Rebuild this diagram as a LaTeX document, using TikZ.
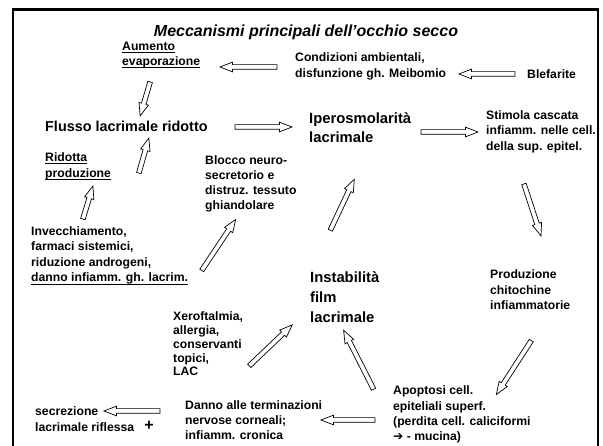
\documentclass[tikz,border=0pt]{standalone}
\usepackage{fontspec}
\setmainfont{Liberation Sans}
\newfontfamily\djv{DejaVu Sans}
\usetikzlibrary{shapes.arrows,calc}
\newcommand{\ul}[1]{\setbox0\hbox{#1}\rlap{\rule[-2.4pt]{\wd0}{0.8pt}}\box0}
% multi-line nodes: anchor "base west" is the baseline of the LAST line
\tikzset{
  sm/.style={anchor=base west, inner sep=0pt, align=left, font=\bfseries\fontsize{12.2}{15.3}\selectfont},
  lg/.style={anchor=base west, inner sep=0pt, align=left, font=\bfseries\fontsize{14.8}{19}\selectfont},
  barrowshape/.style={single arrow, draw=black, fill=white, line width=0.7pt,
    inner xsep=0pt, inner ysep=2pt, minimum width=0pt,
    single arrow head extend=2.5pt, single arrow tip angle=42, anchor=center},
}
\newcommand{\barrow}[2]{%
  \path let \p1=(#1), \p2=(#2), \n1={atan2(\y2-\y1,\x2-\x1)}, \n2={veclen(\x2-\x1,\y2-\y1)} in
    node[barrowshape, minimum height=\n2, rotate=\n1] at ($(#1)!0.5!(#2)$) {};}
\begin{document}
\begin{tikzpicture}[x=1pt,y=-1pt]
\useasboundingbox (0,0) rectangle (603,446);
\draw[line width=2.2pt] (12.7,452) -- (12.7,9.5) -- (598,9.5) -- (598,452);
\node[font=\bfseries\itshape\fontsize{16}{18}\selectfont, inner sep=0pt, anchor=base] (title) at (306,36.5) {Meccanismi principali dell’occhio secco};

\node[sm] (aum) at (122,65.5) {\ul{Aumento}\\\ul{evaporazione}};
\node[sm] (cond) at (295,77.3) {Condizioni ambientali,\\disfunzione gh. Meibomio};
\node[sm] (blef) at (527,78.5) {Blefarite};
\node[lg, font=\bfseries\fontsize{14.4}{19}\selectfont] (flusso) at (45,131.5) {Flusso lacrimale ridotto};
\node[lg] (iper) at (309,143) {Iperosmolarità\\lacrimale};
\node[sm] (stim) at (486,150.1) {Stimola cascata\\infiamm. nelle cell.\\della sup. epitel.};
\node[sm, font=\bfseries\fontsize{12.2}{16}\selectfont] (rid) at (45,177.5) {\ul{Ridotta}\\\ul{produzione}};
\node[sm, font=\bfseries\fontsize{12.2}{15}\selectfont] (bloc) at (205,209.5) {Blocco neuro-\\secretorio e\\distruz. tessuto\\ghiandolare};
\node[sm, font=\bfseries\fontsize{12.2}{15.5}\selectfont] (inv) at (31,282) {Invecchiamento,\\farmaci sistemici,\\riduzione androgeni,\\\ul{danno infiamm. gh. lacrim.}};
\node[lg, font=\bfseries\fontsize{14.8}{20}\selectfont] (inst) at (310,323) {Instabilità\\film\\lacrimale};
\node[sm] (prod) at (490,309.6) {Produzione\\chitochine\\infiammatorie};
\node[sm, font=\bfseries\fontsize{12.2}{13.7}\selectfont] (xero) at (173,375.8) {Xeroftalmia,\\allergia,\\conservanti\\topici,\\LAC};
\node[sm, font=\bfseries\fontsize{12.2}{15.2}\selectfont] (apo) at (393,440.6) {Apoptosi cell.\\epiteliali superf.\\(perdita cell. caliciformi\\{\djv\bfseries ➔} - mucina)};
\node[sm, font=\bfseries\fontsize{12.2}{15}\selectfont] (danno) at (185,439) {Danno alle terminazioni\\nervose corneali;\\infiamm. cronica};
\node[sm, font=\bfseries\fontsize{12.2}{16}\selectfont] (secr) at (35,431.5) {secrezione\\lacrimale riflessa};
\node[font=\bfseries\fontsize{16}{16}\selectfont, inner sep=0pt] (plus) at (149,426) {+};

% arrow end points
\coordinate (a1s) at (280,67);   \coordinate (a1e) at (223,67);
\coordinate (a2s) at (518,74);   \coordinate (a2e) at (462,74);
\coordinate (a3s) at (151,79);   \coordinate (a3e) at (141,113);
\coordinate (a4s) at (232,127);  \coordinate (a4e) at (289,127);
\coordinate (a5s) at (418,132);  \coordinate (a5e) at (475,132);
\coordinate (a6s) at (138,176);  \coordinate (a6e) at (148,141);
\coordinate (a7s) at (82,222);   \coordinate (a7e) at (92,189);
\coordinate (a8s) at (200,273);  \coordinate (a8e) at (234,222);
\coordinate (a9s) at (329,233);  \coordinate (a9e) at (353,182);
\coordinate (a10s) at (523,181); \coordinate (a10e) at (540,233);
\coordinate (a11s) at (533,338); \coordinate (a11e) at (498,392);
\coordinate (a12s) at (375,392); \coordinate (a12e) at (345,333);
\coordinate (a13s) at (247,368); \coordinate (a13e) at (290,327);
\coordinate (a14s) at (378,420); \coordinate (a14e) at (324,420);
\coordinate (a15s) at (163,411); \coordinate (a15e) at (107,411);

\barrow{a1s}{a1e}
\barrow{a2s}{a2e}
\barrow{a3s}{a3e}
\barrow{a4s}{a4e}
\barrow{a5s}{a5e}
\barrow{a6s}{a6e}
\barrow{a7s}{a7e}
\barrow{a8s}{a8e}
\barrow{a9s}{a9e}
\barrow{a10s}{a10e}
\barrow{a11s}{a11e}
\barrow{a12s}{a12e}
\barrow{a13s}{a13e}
\barrow{a14s}{a14e}
\barrow{a15s}{a15e}
\end{tikzpicture}
\end{document}
